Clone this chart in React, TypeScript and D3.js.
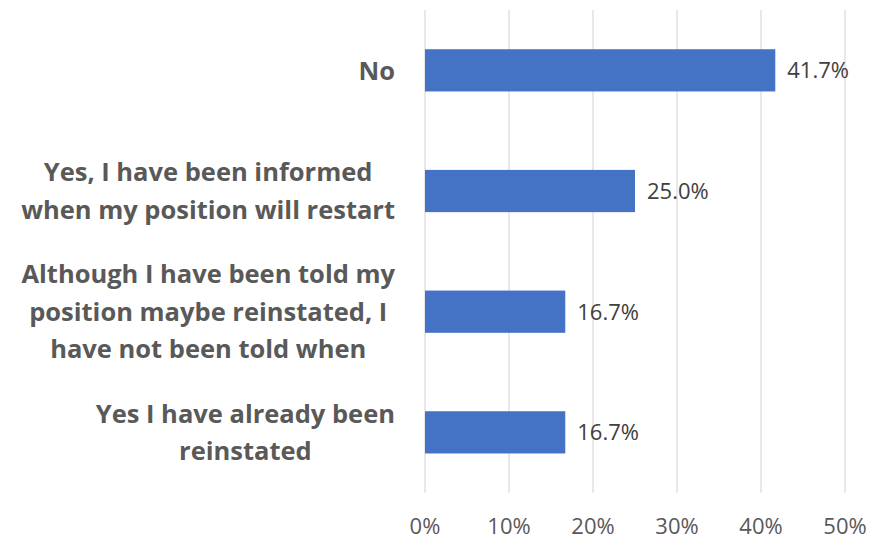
import React, { useEffect, useRef } from "react";
import * as d3 from "d3";

const categories: string[][] = [
  ["No"],
  ["Yes, I have been informed", "when my position will restart"],
  ["Although I have been told my", "position maybe reinstated, I", "have not been told when"],
  ["Yes I have already been", "reinstated"],
];
const values: number[] = [0.417, 0.25, 0.167, 0.167];
const valueLabels: string[] = ["41.7%", "25.0%", "16.7%", "16.7%"];
const ticks: number[] = [0, 0.1, 0.2, 0.3, 0.4, 0.5];

const W = 874;
const H = 539;
const left = 425;
const right = 845;
const top = 10;
const bottom = 492.7;
const labelRight = 395;
const lineH = 37.5;
const FONT = "'Open Sans', Lato, sans-serif";

export default function App() {
  const ref = useRef<SVGSVGElement>(null);

  useEffect(() => {
    const svg = d3.select(ref.current);
    svg.selectAll("*").remove();

    const x = d3.scaleLinear().domain([0, 0.5]).range([left, right]);
    const y = d3
      .scaleBand<number>()
      .domain(d3.range(categories.length))
      .range([top, bottom])
      .paddingInner(0.65)
      .paddingOuter(0.325);

    svg
      .append("rect")
      .attr("width", W)
      .attr("height", H)
      .attr("fill", "#ffffff");

    // gridlines
    svg
      .append("g")
      .selectAll("line")
      .data(ticks)
      .join("line")
      .attr("x1", (d) => x(d))
      .attr("x2", (d) => x(d))
      .attr("y1", top)
      .attr("y2", bottom)
      .attr("stroke", "#d9d9d9")
      .attr("stroke-width", 1.2);

    // tick labels
    svg
      .append("g")
      .selectAll("text")
      .data(ticks)
      .join("text")
      .attr("x", (d) => x(d))
      .attr("y", 534)
      .attr("text-anchor", "middle")
      .attr("font-family", FONT)
      .attr("font-size", 22)
      .attr("fill", "#595959")
      .text((d) => d3.format(".0%")(d));

    // bars
    svg
      .append("g")
      .selectAll("rect")
      .data(values)
      .join("rect")
      .attr("x", x(0))
      .attr("y", (_, i) => y(i)!)
      .attr("width", (d) => x(d) - x(0))
      .attr("height", y.bandwidth())
      .attr("fill", "#4472C4");

    // value labels
    svg
      .append("g")
      .selectAll("text")
      .data(values)
      .join("text")
      .attr("x", (d) => x(d) + 12)
      .attr("y", (_, i) => y(i)! + y.bandwidth() / 2)
      .attr("dy", "0.36em")
      .attr("font-family", FONT)
      .attr("font-size", 22)
      .attr("fill", "#404040")
      .text((_, i) => valueLabels[i]);

    // category labels
    categories.forEach((lines, i) => {
      const cy = y(i)! + y.bandwidth() / 2;
      const g = svg.append("g");
      const t = g
        .append("text")
        .attr("text-anchor", "middle")
        .attr("font-family", FONT)
        .attr("font-weight", "bold")
        .attr("font-size", 25.5)
        .attr("fill", "#595959");
      lines.forEach((ln, j) => {
        t.append("tspan")
          .attr("x", 0)
          .attr("y", cy + (j - (lines.length - 1) / 2) * lineH)
          .attr("dy", "0.36em")
          .text(ln);
      });
      const node = t.node() as SVGTextElement;
      let maxW = 0;
      t.selectAll<SVGTSpanElement, unknown>("tspan").each(function () {
        maxW = Math.max(maxW, this.getComputedTextLength());
      });
      if (!maxW) maxW = node.getBBox().width;
      g.attr("transform", `translate(${labelRight - maxW / 2},0)`);
    });
  }, []);

  return (
    <svg
      ref={ref}
      width={W}
      height={H}
      style={{ position: "absolute", left: 0, top: 0, display: "block" }}
    />
  );
}
